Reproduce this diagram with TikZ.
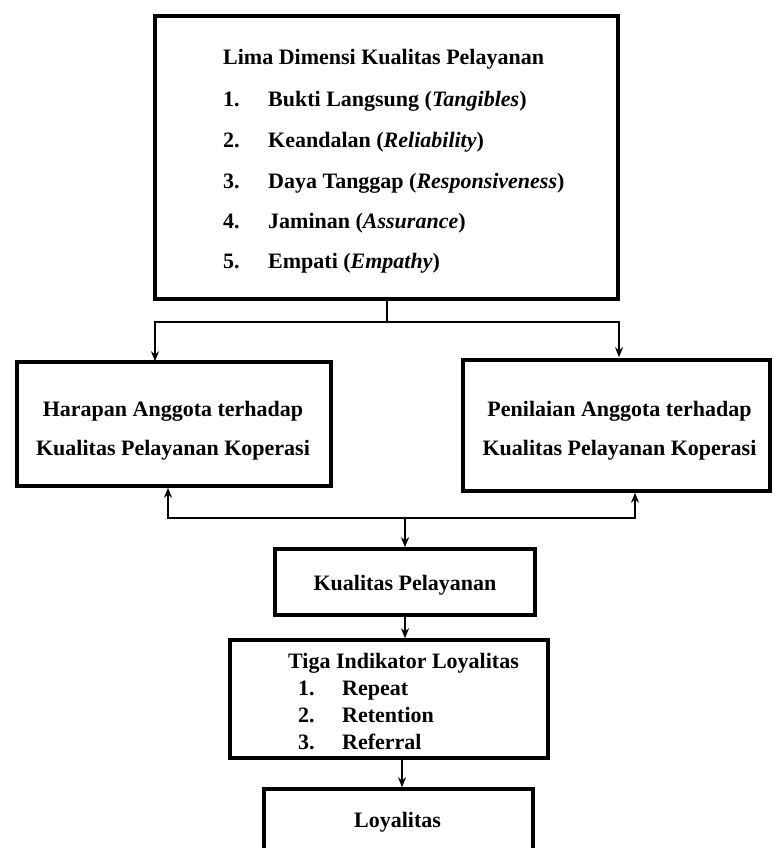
\documentclass[tikz,border=0pt]{standalone}
\usepackage{fontspec}
\setmainfont{Liberation Serif}
\usetikzlibrary{arrows.meta,shadows}
\tikzset{
  boxstyle/.style={draw=black, line width=3.5pt, fill=white, inner sep=0pt,
    drop shadow={opacity=0.55, shadow xshift=2pt, shadow yshift=-2pt}},
  txt/.style={font=\fontsize{22}{26}\selectfont\bfseries, inner sep=0pt, anchor=base west},
  ctxt/.style={font=\fontsize{22}{26}\selectfont\bfseries, inner sep=0pt, anchor=base},
  conn/.style={line width=1.7pt, draw=black},
  arr/.style={conn, -{Stealth[length=10pt,width=8pt]}}
}
\begin{document}
\begin{tikzpicture}[x=1pt,y=-1pt]
\useasboundingbox (0,0) rectangle (774,848);
\fill[white] (0,0) rectangle (774,848);
% boxes
\node[boxstyle, minimum width=463pt, minimum height=283pt] (top) at (386.5,157.5) {};
\node[boxstyle, minimum width=314pt, minimum height=124pt] (left) at (174,424) {};
\node[boxstyle, minimum width=307pt, minimum height=131pt] (right) at (616.5,425.5) {};
\node[boxstyle, minimum width=260pt, minimum height=66pt] (kual) at (405,582) {};
\node[boxstyle, minimum width=318pt, minimum height=118pt] (tiga) at (389,699) {};
\node[boxstyle, minimum width=269pt, minimum height=100pt] (loy) at (398.5,839) {};
% top box text
\node[txt] (t0) at (223,65) {Lima Dimensi Kualitas Pelayanan};
\node[txt] (n1) at (223,107) {1.};
\node[txt] (i1) at (268,107) {Bukti Langsung (\textit{Tangibles})};
\node[txt] (n2) at (223,147) {2.};
\node[txt] (i2) at (268,147) {Keandalan (\textit{Reliability})};
\node[txt] (n3) at (223,188) {3.};
\node[txt] (i3) at (268,188) {Daya Tanggap (\textit{Responsiveness})};
\node[txt] (n4) at (223,228) {4.};
\node[txt] (i4) at (268,228) {Jaminan (\textit{Assurance})};
\node[txt] (n5) at (223,268) {5.};
\node[txt] (i5) at (268,268) {Empati (\textit{Empathy})};
% middle boxes text
\node[ctxt] (l1) at (173,416) {Harapan Anggota terhadap};
\node[ctxt] (l2) at (173,455) {Kualitas Pelayanan Koperasi};
\node[ctxt] (r1) at (619.5,416) {Penilaian Anggota terhadap};
\node[ctxt] (r2) at (619.5,455) {Kualitas Pelayanan Koperasi};
% kualitas
\node[ctxt] (k1) at (405,590) {Kualitas Pelayanan};
% tiga
\node[txt] (g0) at (288,668) {Tiga Indikator Loyalitas};
\node[txt] (gn1) at (298,695) {1.};
\node[txt] (gi1) at (342,695) {Repeat};
\node[txt] (gn2) at (298,722) {2.};
\node[txt] (gi2) at (342,722) {Retention};
\node[txt] (gn3) at (298,749) {3.};
\node[txt] (gi3) at (342,749) {Referral};
% loyalitas
\node[ctxt] (y1) at (397.5,827) {Loyalitas};
% connectors
\coordinate (j1) at (387,322);
\coordinate (j2) at (405,518);
\draw[conn] (top.south -| j1) -- (j1);
\draw[arr] (j1) -| ([xshift=-19pt,yshift=-1pt]left.north);
\draw[arr] (j1) -| ([xshift=2.5pt,yshift=1pt]right.north);
\draw[arr] (j2) -| ([xshift=-6pt]left.south);
\draw[arr] (j2) -| ([xshift=18.5pt]right.south);
\draw[arr] (j2) -- (kual.north);
\draw[arr] (kual.south) -- (tiga.north -| kual.south);
\draw[arr] ([xshift=13pt]tiga.south) -- ([xshift=13pt]tiga.south |- loy.north);
\end{tikzpicture}
\end{document}
